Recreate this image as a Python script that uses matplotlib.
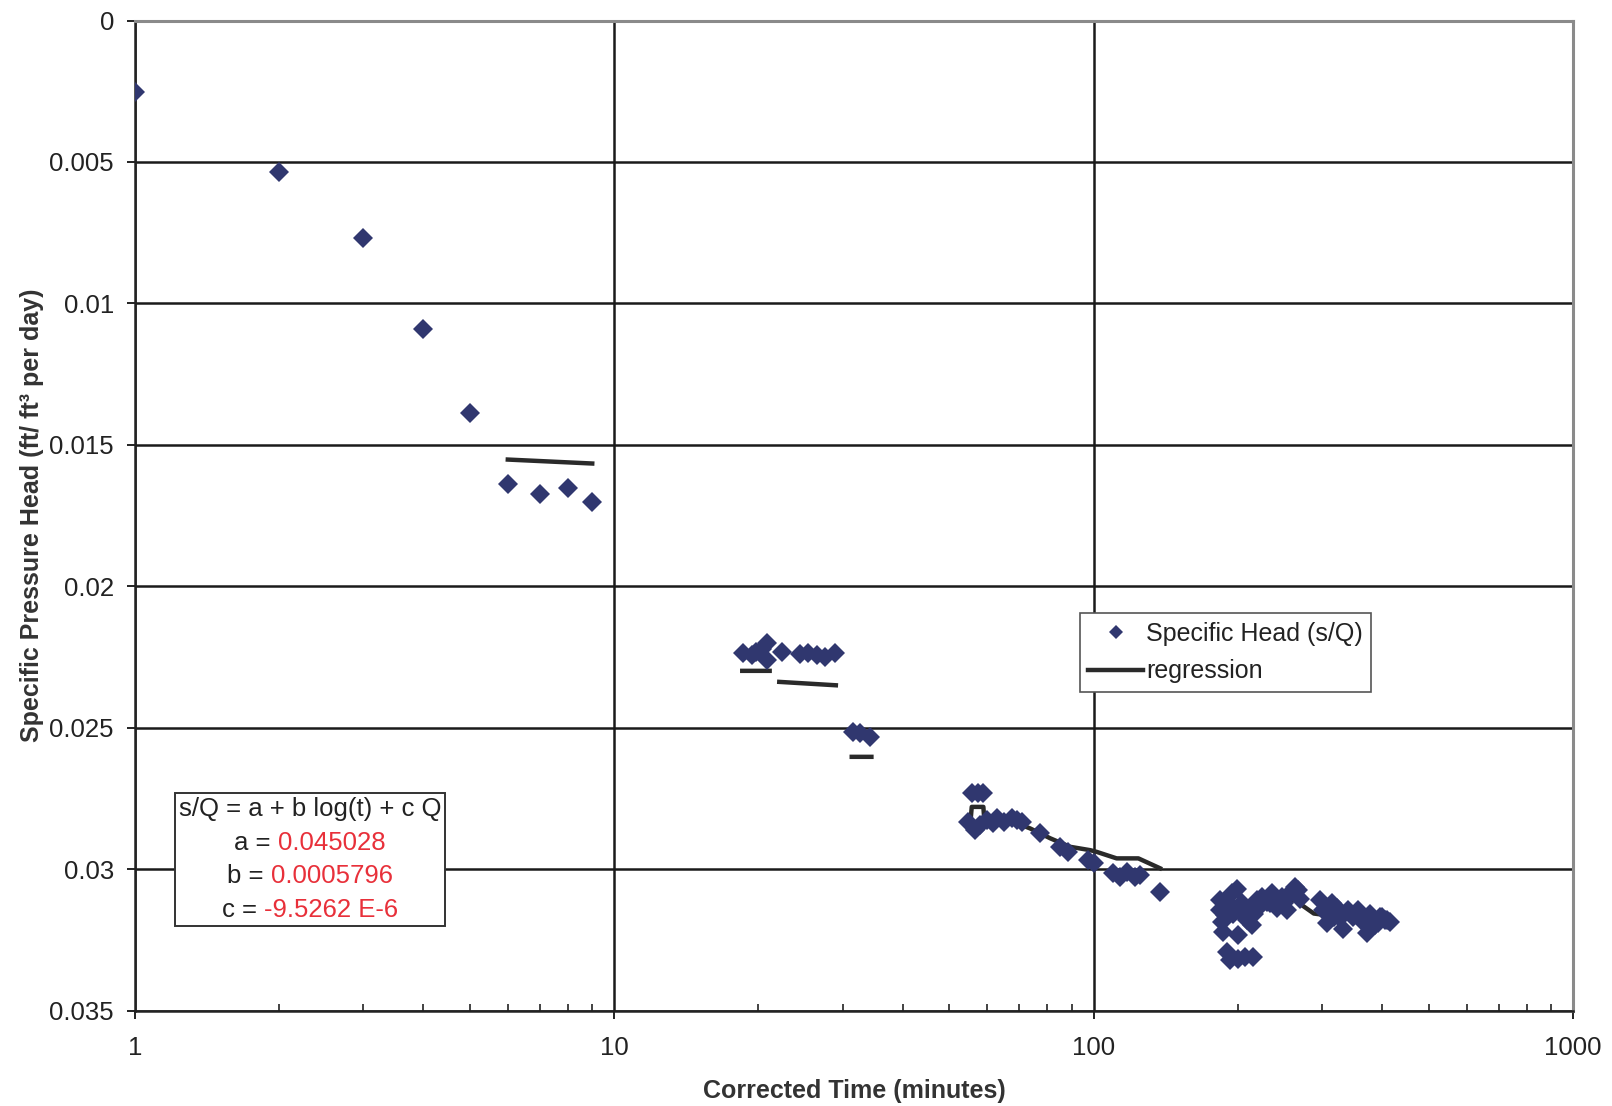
import numpy as np
import matplotlib.pyplot as plt
from matplotlib.offsetbox import TextArea, HPacker, VPacker, AnchoredOffsetbox

plt.rcParams['font.family'] = ['Liberation Sans', 'DejaVu Sans']

# specific head s/Q, grouped by pumping step
t_step1 = [1, 2, 3, 4, 5, 6, 7, 8, 9]
s_step1 = [0.00254, 0.00534, 0.0077, 0.0109, 0.01388, 0.01639, 0.01675, 0.01653, 0.01701]

t_step2 = [18.6, 19.4, 19.8, 20.3, 20.8, 20.8, 22.4, 24.4, 25.4, 26.5, 27.5, 28.9]
s_step2 = [0.02237, 0.02243, 0.02232, 0.02220, 0.02202, 0.02261, 0.02232, 0.0224,
           0.02237, 0.02243, 0.02249, 0.02237]

t_step3 = [31.5, 32.6, 34.2]
s_step3 = [0.02514, 0.0252, 0.02532]

t_step4 = [55.7, 57.5, 58.9, 54.8, 56.6, 58.0, 59.8, 61.8, 62.8, 64.9, 67.5, 69.2,
           70.8, 77.3, 85.1, 88.5, 97.5, 100, 110, 113.6, 117.3, 122, 125, 137.6]
s_step4 = [0.02732, 0.02732, 0.02732, 0.02833, 0.02862, 0.02844, 0.02827, 0.02838,
           0.02821, 0.02833, 0.02821, 0.02827, 0.02833, 0.02874, 0.02921, 0.02939,
           0.02968, 0.0298, 0.03015, 0.03027, 0.0301, 0.03027, 0.03021, 0.0308]

t_step5 = [183.6, 183.6, 185.1, 186.6, 188.1, 189.6, 194.2, 195.7, 198.9, 200.5, 203.8,
           205.4, 208.7, 212.1, 213.8, 219, 224.3, 229.8, 235.4, 241.1, 241.1, 247,
           252.9, 257, 263.3, 267.5, 269.6, 296.8, 301.6, 306.6, 314.1, 321.7, 326.9,
           332, 340.1, 348.4, 356.8, 365.5, 371.4, 377.3, 386.5, 396, 405.5, 415.4,
           190, 197, 216, 222, 233, 250, 310, 318, 345, 360, 380, 392, 400, 410,
           189.6, 192.7, 200.5, 207, 215.4]
s_step5 = [0.0311, 0.03145, 0.03186, 0.03222, 0.03163, 0.03133, 0.03086, 0.03157,
           0.03069, 0.03233, 0.03121, 0.03163, 0.0318, 0.03145, 0.03198, 0.0311,
           0.03098, 0.03116, 0.03086, 0.03104, 0.03139, 0.03098, 0.03145, 0.03086,
           0.03063, 0.03075, 0.03104, 0.0311, 0.03145, 0.03192, 0.03121, 0.03139,
           0.03174, 0.0321, 0.03145, 0.03169, 0.03145, 0.03186, 0.03227, 0.03157,
           0.03198, 0.03169, 0.0318, 0.03186,
           0.0312, 0.0314, 0.0316, 0.0313, 0.0312, 0.0312, 0.0315, 0.0317, 0.0316,
           0.0317, 0.0318, 0.0319, 0.0317, 0.0318,
           0.03292, 0.03322, 0.03316, 0.0331, 0.0331]

# regression curve, nan breaks between steps
t_reg = [6, 9, np.nan, 18.5, 21.1, np.nan, 22.1, 29.0, np.nan, 31.3, 34.4, np.nan,
         55.4, 55.7, 58.9, 59.1, 61.8, 69.2, 73.7, 81.2, 89.3, 98.4, 101.5, 111.7,
         124, 137.6, np.nan, 185, 200, 230, 263, 288, 330, 410]
s_reg = [0.01552, 0.01566, np.nan, 0.02299, 0.02299, np.nan, 0.02338, 0.0235, np.nan,
         0.02603, 0.02603, np.nan,
         0.02827, 0.0278, 0.0278, 0.02815, 0.02827, 0.02838, 0.02856, 0.02891,
         0.02921, 0.02933, 0.02939, 0.02962, 0.02962, 0.02997, np.nan,
         0.0313, 0.0313, 0.0312, 0.0311, 0.03157, 0.0317, 0.0318]

y_ticks = [0, 0.005, 0.01, 0.015, 0.02, 0.025, 0.03, 0.035]
y_labels = ['0', '0.005', '0.01', '0.015', '0.02', '0.025', '0.03', '0.035']
x_ticks = [1, 10, 100, 1000]
x_labels = ['1', '10', '100', '1000']

t_all = t_step1 + t_step2 + t_step3 + t_step4 + t_step5
s_all = s_step1 + s_step2 + s_step3 + s_step4 + s_step5

fig = plt.figure(figsize=(16.12, 11.06), dpi=100)
ax = fig.add_axes([0.0836, 0.0863, 0.8922, 0.8951])

navy = '#30376f'
txt = '#222222'

ax.plot(t_all, s_all, linestyle='none', marker='D', markersize=10, color=navy,
        markeredgewidth=0, label='Specific Head (s/Q)', zorder=4)
ax.plot(t_reg, s_reg, color='#2a2a2a', linewidth=3.2, label='regression', zorder=3)

ax.set_xscale('log')
ax.set_xlim(1, 1000)
ax.set_ylim(0.035, 0)
ax.set_xticks(x_ticks)
ax.set_xticklabels(x_labels)
ax.set_yticks(y_ticks)
ax.set_yticklabels(y_labels)

ax.grid(True, which='major', color='#1a1a1a', linewidth=1.8)
ax.tick_params(axis='both', which='major', labelsize=18.5, labelcolor=txt, color='#222222',
               width=1.4, length=6, direction='out')
ax.tick_params(axis='y', pad=9)
ax.tick_params(axis='x', pad=12)
ax.tick_params(axis='x', which='minor', direction='in', length=5, width=1.2, color='#222222')
ax.tick_params(axis='y', which='minor', left=False)

for side in ['left', 'bottom']:
    ax.spines[side].set_color('#222222')
    ax.spines[side].set_linewidth(1.8)
for side in ['top', 'right']:
    ax.spines[side].set_color('#8a8a8a')
    ax.spines[side].set_linewidth(2.2)

ax.set_xlabel('Corrected Time (minutes)', fontsize=18, fontweight='bold', color='#333333',
              labelpad=14)
ax.set_ylabel('Specific Pressure Head (ft/ ft\u00b3 per day)', fontsize=18,
              fontweight='bold', color='#333333', labelpad=4)

leg = ax.legend(loc='upper left', bbox_to_anchor=(1079.5 / 1612, 1 - 612.8 / 1106),
                bbox_transform=fig.transFigure, fontsize=18, fancybox=False,
                edgecolor='#555555', framealpha=1, borderaxespad=0, handlelength=2.2,
                handletextpad=0.1, borderpad=0.35, labelspacing=0.55, markerscale=0.75)
leg.get_frame().set_linewidth(1.2)
for t in leg.get_texts():
    t.set_color(txt)

# equation box with red coefficients
fs = 18.5
red = '#e8303a'
rows = [TextArea('s/Q = a + b log(t) + c Q', textprops=dict(fontsize=fs, color=txt))]
for name, val in [('a = ', '0.045028'), ('b = ', '0.0005796'), ('c = ', '-9.5262 E-6')]:
    rows.append(HPacker(children=[TextArea(name, textprops=dict(fontsize=fs, color=txt)),
                                  TextArea(val, textprops=dict(fontsize=fs, color=red))],
                        align='baseline', pad=0, sep=0))
box = VPacker(children=rows, align='center', pad=0, sep=7)
anch = AnchoredOffsetbox(loc='center', child=box, pad=0.3, borderpad=0, frameon=True,
                         bbox_to_anchor=(310 / 1612, 1 - 859.5 / 1106),
                         bbox_transform=fig.transFigure)
anch.patch.set_boxstyle('square', pad=0)
anch.patch.set_edgecolor('#333333')
anch.patch.set_linewidth(1.4)
ax.add_artist(anch)

fig.savefig('out.png', dpi=100)
